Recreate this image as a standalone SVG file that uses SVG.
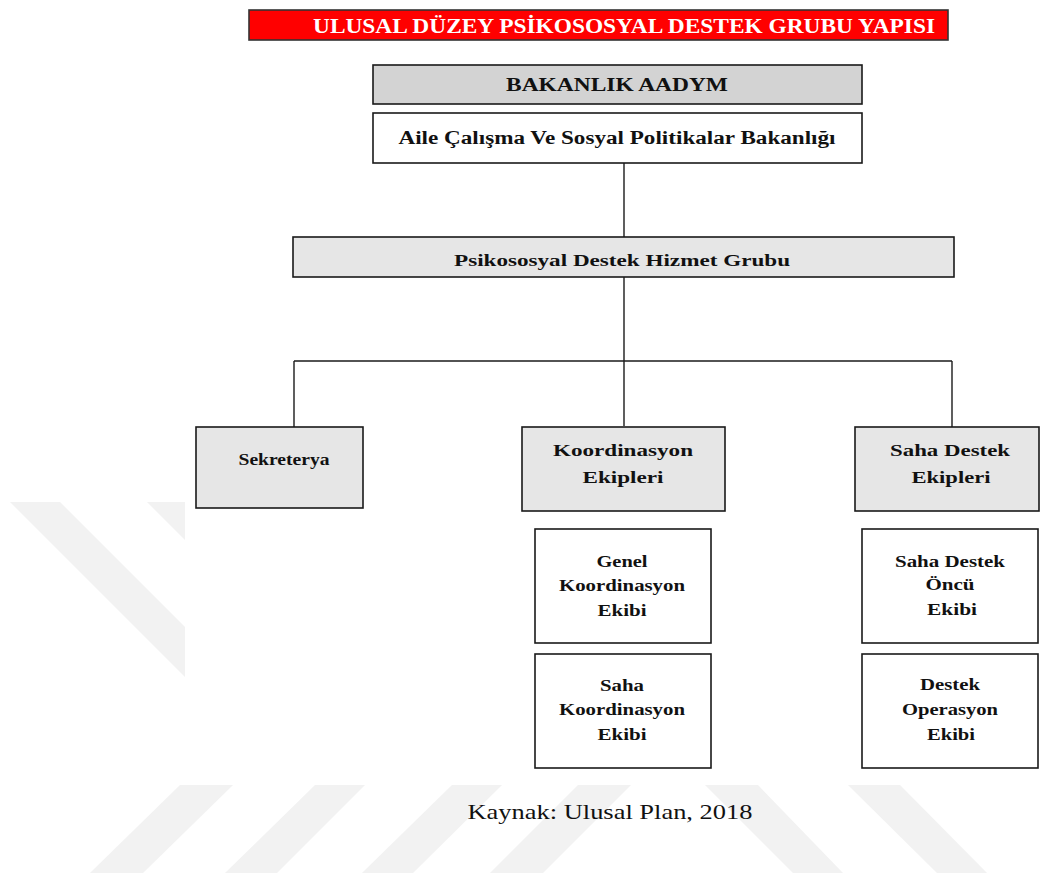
<svg xmlns="http://www.w3.org/2000/svg" width="1041" height="878" viewBox="0 0 1041 878">
<style>
.bx{stroke:#1a1a1a;stroke-width:1.6}
.g{fill:#e6e6e6}
.w{fill:#ffffff}
.t{font-weight:bold;fill:#111;text-anchor:middle}
.wm{fill:#f2f2f2}
.ln{stroke:#1a1a1a;stroke-width:1.4;fill:none}
</style>
<rect width="1041" height="878" fill="#ffffff"/>
<g id="watermark">
<polygon class="wm" points="10,502 60,502 185,627 185,677"/>
<polygon class="wm" points="147,502 185,502 185,540"/>
<polygon class="wm" points="90,873 143,873 233,785 180,785"/>
<polygon class="wm" points="225,873 277,873 365,785 315,785"/>
<polygon class="wm" points="362,873 413,873 502,785 452,785"/>
<polygon class="wm" points="490,873 543,873 631,785 578,785"/>
<polygon class="wm" points="705,785 758,785 843,873 793,873"/>
<polygon class="wm" points="848,785 900,785 987,873 937,873"/>
</g>
<g id="title">
<rect x="249" y="10" width="699" height="30" fill="#ff0000" stroke="#333" stroke-width="1.6"/>
<text x="624" y="33" font-family="Liberation Serif, serif" font-weight="bold" font-size="20" fill="#ffffff" text-anchor="middle" textLength="622" lengthAdjust="spacingAndGlyphs">ULUSAL DÜZEY PSİKOSOSYAL DESTEK GRUBU YAPISI</text>
</g>
<g id="connectors">
<line class="ln" x1="624" y1="163" x2="624" y2="237"/>
<line class="ln" x1="624" y1="277" x2="624" y2="361"/>
<line class="ln" x1="294" y1="361" x2="952" y2="361"/>
<line class="ln" x1="294" y1="361" x2="294" y2="427"/>
<line class="ln" x1="624" y1="361" x2="624" y2="426"/>
<line class="ln" x1="952" y1="361" x2="952" y2="427"/>
</g>
<g id="bakanlik-aadym" font-family="Liberation Serif, serif">
<rect class="bx" x="373" y="65" width="489" height="39" fill="#d3d3d3"/>
<text class="t" x="617" y="91" font-size="18" textLength="222" lengthAdjust="spacingAndGlyphs">BAKANLIK AADYM</text>
</g>
<g id="aile-bakanligi" font-family="Liberation Serif, serif">
<rect class="bx w" x="373" y="113" width="489" height="50"/>
<text class="t" x="617" y="144" font-size="18" textLength="437" lengthAdjust="spacingAndGlyphs">Aile Çalışma Ve Sosyal Politikalar Bakanlığı</text>
</g>
<g id="psikososyal" font-family="Liberation Serif, serif">
<rect class="bx g" x="293" y="237" width="661" height="40"/>
<text class="t" x="622" y="266" font-size="16" textLength="336" lengthAdjust="spacingAndGlyphs">Psikososyal Destek Hizmet Grubu</text>
</g>
<g id="sekreterya" font-family="Liberation Serif, serif">
<rect class="bx g" x="196" y="427" width="167" height="81"/>
<text class="t" x="284" y="465" font-size="17" textLength="91" lengthAdjust="spacingAndGlyphs">Sekreterya</text>
</g>
<g id="koordinasyon-ekipleri" font-family="Liberation Serif, serif">
<rect class="bx g" x="522" y="427" width="203" height="84"/>
<text class="t" x="623" y="456" font-size="17" textLength="140" lengthAdjust="spacingAndGlyphs">Koordinasyon</text>
<text class="t" x="623" y="483" font-size="17" textLength="81" lengthAdjust="spacingAndGlyphs">Ekipleri</text>
</g>
<g id="saha-destek-ekipleri" font-family="Liberation Serif, serif">
<rect class="bx g" x="855" y="427" width="184" height="84"/>
<text class="t" x="950" y="456" font-size="17" textLength="120" lengthAdjust="spacingAndGlyphs">Saha Destek</text>
<text class="t" x="951" y="483" font-size="17" textLength="79" lengthAdjust="spacingAndGlyphs">Ekipleri</text>
</g>
<g id="genel-koordinasyon" font-family="Liberation Serif, serif">
<rect class="bx w" x="535" y="529" width="176" height="114"/>
<text class="t" x="622" y="567" font-size="16" textLength="51" lengthAdjust="spacingAndGlyphs">Genel</text>
<text class="t" x="622" y="591" font-size="16" textLength="126" lengthAdjust="spacingAndGlyphs">Koordinasyon</text>
<text class="t" x="622" y="616" font-size="16" textLength="49" lengthAdjust="spacingAndGlyphs">Ekibi</text>
</g>
<g id="saha-koordinasyon" font-family="Liberation Serif, serif">
<rect class="bx w" x="535" y="654" width="176" height="114"/>
<text class="t" x="622" y="691" font-size="16" textLength="44" lengthAdjust="spacingAndGlyphs">Saha</text>
<text class="t" x="622" y="715" font-size="16" textLength="126" lengthAdjust="spacingAndGlyphs">Koordinasyon</text>
<text class="t" x="622" y="740" font-size="16" textLength="49" lengthAdjust="spacingAndGlyphs">Ekibi</text>
</g>
<g id="saha-destek-oncu" font-family="Liberation Serif, serif">
<rect class="bx w" x="862" y="529" width="176" height="114"/>
<text class="t" x="950" y="567" font-size="16" textLength="110" lengthAdjust="spacingAndGlyphs">Saha Destek</text>
<text class="t" x="950" y="590" font-size="16" textLength="49" lengthAdjust="spacingAndGlyphs">Öncü</text>
<text class="t" x="952" y="615" font-size="16" textLength="50" lengthAdjust="spacingAndGlyphs">Ekibi</text>
</g>
<g id="destek-operasyon" font-family="Liberation Serif, serif">
<rect class="bx w" x="862" y="654" width="176" height="114"/>
<text class="t" x="950" y="690" font-size="16" textLength="60" lengthAdjust="spacingAndGlyphs">Destek</text>
<text class="t" x="950" y="715" font-size="16" textLength="96" lengthAdjust="spacingAndGlyphs">Operasyon</text>
<text class="t" x="951" y="740" font-size="16" textLength="48" lengthAdjust="spacingAndGlyphs">Ekibi</text>
</g>
<g id="source">
<text x="610" y="819" font-family="Liberation Serif, serif" font-size="22" fill="#111" text-anchor="middle" textLength="285" lengthAdjust="spacingAndGlyphs">Kaynak: Ulusal Plan, 2018</text>
</g>
</svg>
